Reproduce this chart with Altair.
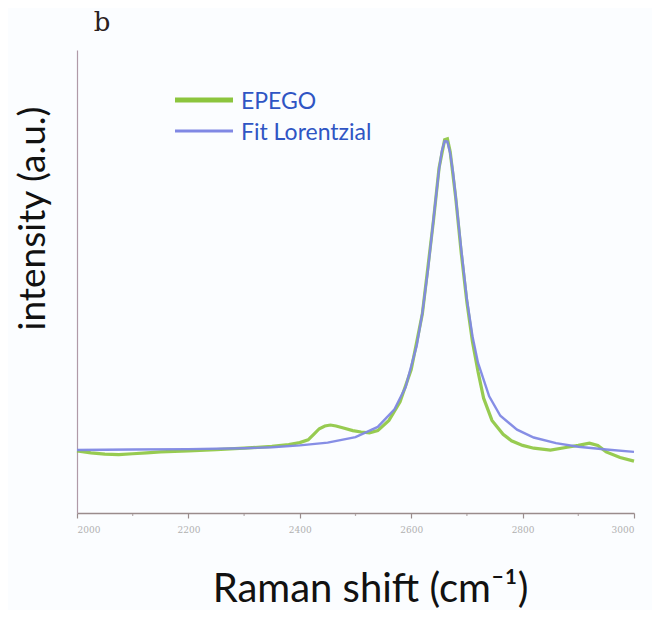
import altair as alt
import pandas as pd

# ---- data ----
fit_shift = [2000, 2100, 2200, 2300, 2350, 2400, 2450, 2500, 2540, 2570, 2590, 2610,
             2620, 2630, 2640, 2650, 2655, 2660, 2665, 2670, 2675, 2680, 2690, 2700,
             2710, 2720, 2740, 2760, 2790, 2820, 2860, 2900, 2950, 3000]
fit_intensity = [0.136, 0.137, 0.138, 0.140, 0.142, 0.146, 0.152, 0.164, 0.186, 0.224, 0.272, 0.362,
                 0.432, 0.524, 0.634, 0.742, 0.782, 0.803, 0.802, 0.777, 0.736, 0.683, 0.568, 0.462,
                 0.382, 0.324, 0.252, 0.210, 0.180, 0.163, 0.151, 0.143, 0.137, 0.132]

epego_shift = [2000, 2025, 2050, 2075, 2100, 2125, 2150, 2200, 2250, 2300, 2350, 2380, 2400,
               2415, 2425, 2435, 2445, 2455, 2465, 2480, 2495, 2510, 2525, 2540, 2560, 2580,
               2600, 2620, 2640, 2650, 2660, 2665, 2670, 2680, 2690, 2700, 2710, 2720, 2730,
               2745, 2765, 2780, 2800, 2820, 2850, 2880, 2900, 2920, 2935, 2950, 2975, 3000]
epego_intensity = [0.134, 0.130, 0.127, 0.126, 0.128, 0.130, 0.132, 0.134, 0.137, 0.140, 0.144, 0.148, 0.152,
                   0.158, 0.170, 0.182, 0.188, 0.190, 0.188, 0.183, 0.178, 0.175, 0.173, 0.178, 0.200, 0.240,
                   0.310, 0.430, 0.632, 0.745, 0.806, 0.808, 0.780, 0.680, 0.560, 0.455, 0.370, 0.305, 0.248,
                   0.200, 0.170, 0.156, 0.146, 0.140, 0.136, 0.142, 0.146, 0.151, 0.146, 0.132, 0.120, 0.112]

series_names = ["EPEGO", "Fit Lorentzial"]
series_colors = ["#8cc53e", "#8088e4"]
major_ticks = [2000, 2200, 2400, 2600, 2800, 3000]
minor_ticks = [2100, 2300, 2500, 2700, 2900]

df_ep = pd.DataFrame({"shift": epego_shift, "intensity": epego_intensity, "series": series_names[0]})
df_fit = pd.DataFrame({"shift": fit_shift, "intensity": fit_intensity, "series": series_names[1]})
df_minor = pd.DataFrame({"shift": minor_ticks})

x_scale = alt.Scale(domain=[2000, 3000], nice=False, zero=False)
y_scale = alt.Scale(domain=[0, 1], nice=False, zero=False)
color_scale = alt.Scale(domain=series_names, range=series_colors)

x_axis = alt.Axis(
    values=major_ticks, format="d", grid=False,
    labelFont="DejaVu Serif", labelFontSize=9, labelColor="#b0b0b0", labelPadding=7,
    tickColor="#9a8c8c", tickSize=5, tickWidth=1.2,
    domainColor="#9a8c8c", domainWidth=1.5,
    title="Raman shift (cm⁻¹)", titleFont="Lato", titleFontSize=40,
    titleFontWeight="normal", titleColor="#111111",
    titleX=293, titleY=88, titleAlign="center", titleBaseline="alphabetic",
)
y_axis = alt.Axis(
    labels=False, ticks=False, grid=False,
    domainColor="#b09aa8", domainWidth=1.2,
    title="intensity (a.u.)", titleFont="Lato", titleFontSize=37,
    titleFontWeight="normal", titleColor="#111111", titleAngle=270,
    titleX=-44, titleY=168, titleAlign="center", titleBaseline="middle",
)

ep_line = alt.Chart(df_ep).mark_line(strokeWidth=3.2, opacity=0.9).encode(
    x=alt.X("shift:Q", scale=x_scale, axis=x_axis),
    y=alt.Y("intensity:Q", scale=y_scale, axis=y_axis),
    color=alt.Color("series:N", scale=color_scale, legend=None),
)
fit_line = alt.Chart(df_fit).mark_line(strokeWidth=2.4, opacity=0.95).encode(
    x=alt.X("shift:Q", scale=x_scale),
    y=alt.Y("intensity:Q", scale=y_scale),
    color=alt.Color("series:N", scale=color_scale, legend=None),
)
minor = alt.Chart(df_minor).mark_tick(color="#9a8c8c", thickness=1.2, size=3, orient="vertical").encode(
    x=alt.X("shift:Q", scale=x_scale),
    y=alt.value(464.5),
)

# manual legend
leg1_line = alt.Chart(df_ep.head(1)).mark_rule(color=series_colors[0], strokeWidth=5).encode(
    x=alt.value(98), x2=alt.value(156), y=alt.value(50))
leg1_text = alt.Chart(df_ep.head(1)).mark_text(
    text=series_names[0], align="left", baseline="middle", font="Lato",
    fontSize=23, color="#2f55c4").encode(x=alt.value(164), y=alt.value(52))
leg2_line = alt.Chart(df_fit.head(1)).mark_rule(color=series_colors[1], strokeWidth=3).encode(
    x=alt.value(98), x2=alt.value(156), y=alt.value(81))
leg2_text = alt.Chart(df_fit.head(1)).mark_text(
    text=series_names[1], align="left", baseline="middle", font="Lato",
    fontSize=23, color="#2f55c4").encode(x=alt.value(164), y=alt.value(83))

panel = alt.Chart(df_ep.head(1)).mark_text(
    text="b", font="DejaVu Serif", fontSize=26, color="#2a2020",
    align="center", baseline="middle").encode(x=alt.value(25), y=alt.value(-27))

chart = alt.layer(
    ep_line, fit_line, minor, leg1_line, leg1_text, leg2_line, leg2_text, panel
).properties(
    width=557, height=463,
    padding={"left": 69, "top": 42, "right": 18, "bottom": 97},
    autosize=alt.AutoSizeParams(type="none"),
    background="#fbfdff",
).configure_view(strokeOpacity=0)

chart.save("out.html", embed_options={"renderer": "svg", "actions": False})
